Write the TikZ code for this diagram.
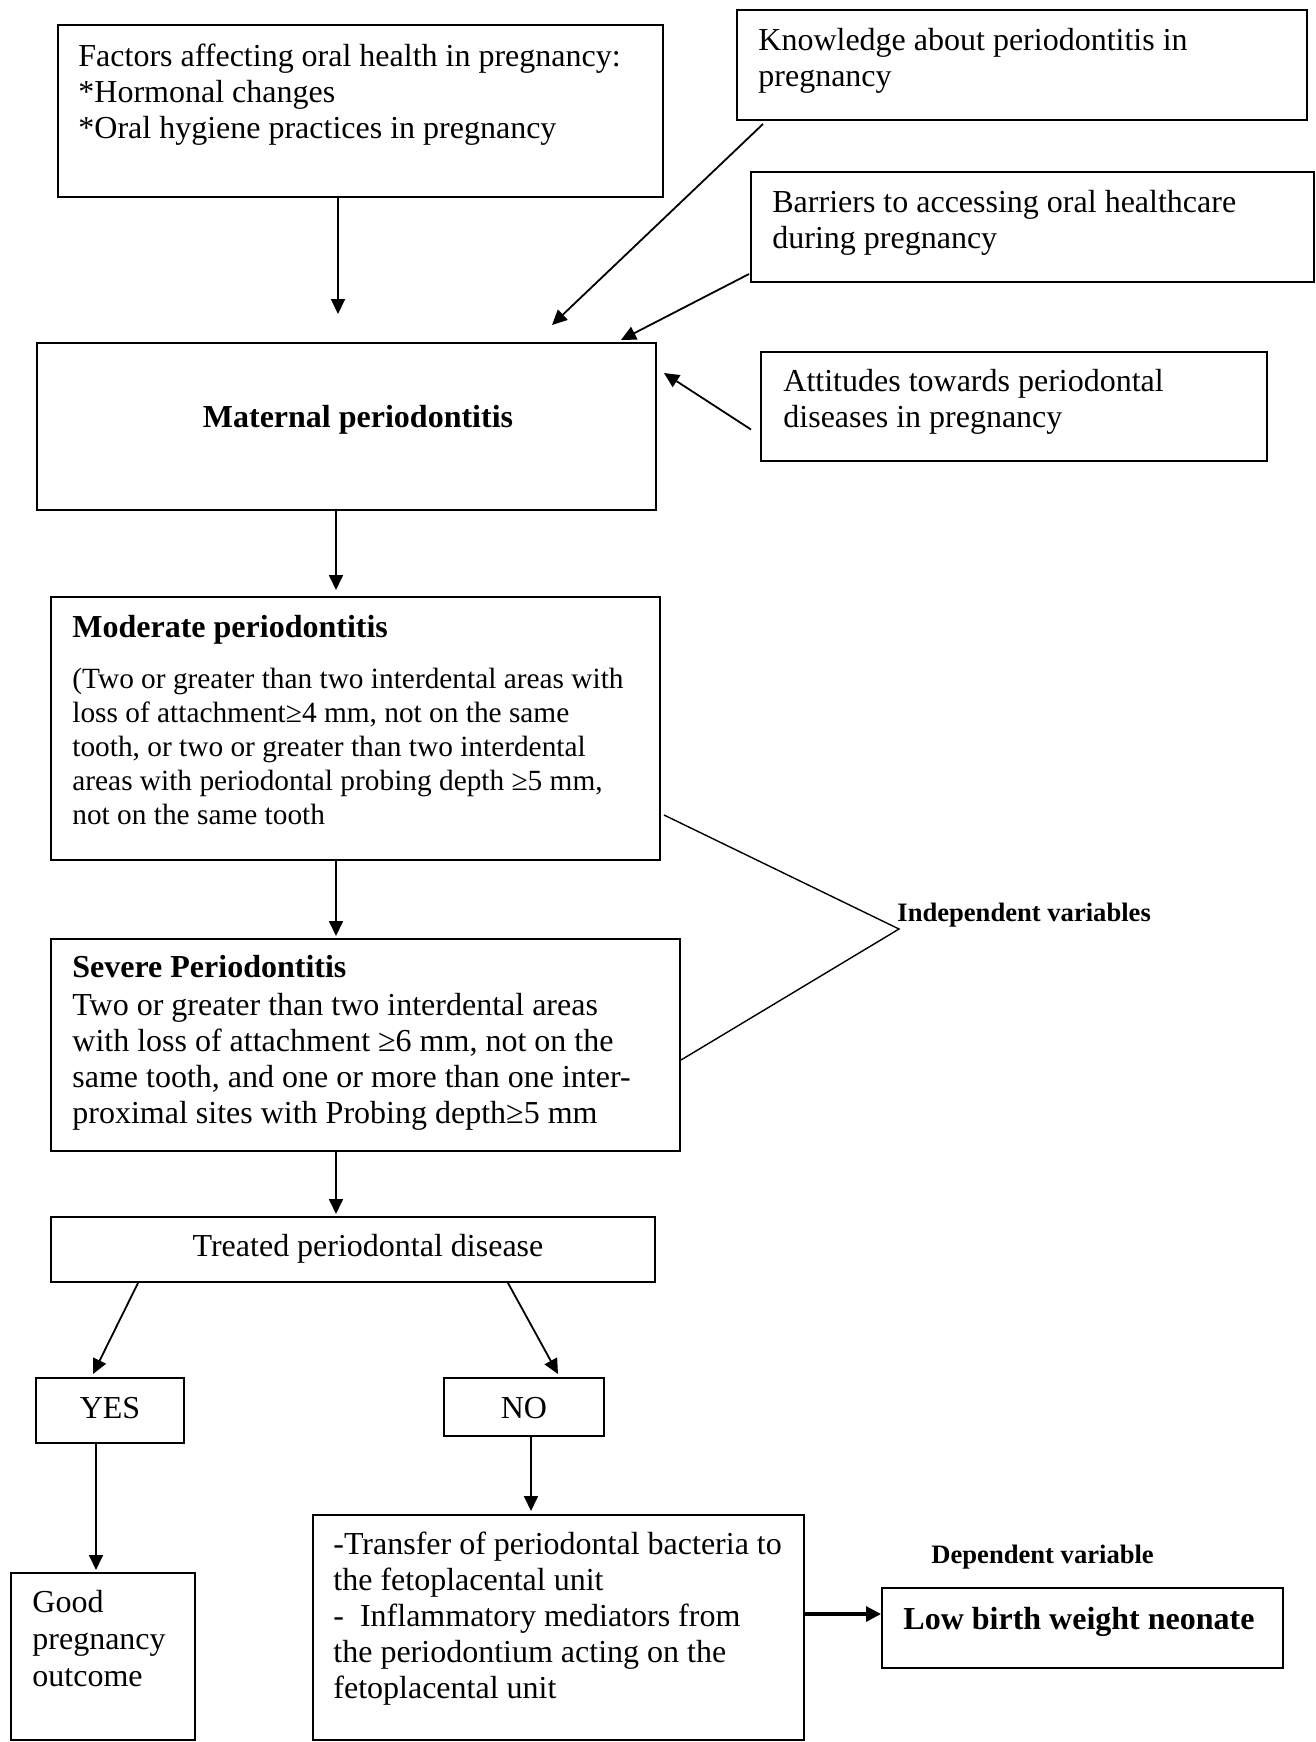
\documentclass[tikz,border=0pt]{standalone}
\usepackage{fontspec}
\setmainfont{Liberation Serif}
\usetikzlibrary{arrows.meta,fit,calc}
\newcommand{\firststrut}{\rule{0pt}{12pt}}
\begin{document}
\begin{tikzpicture}[x=0.5pt,y=-0.5pt,
  box/.style={draw, line width=1pt, inner sep=0pt, rectangle},
  txt/.style={inner sep=0pt, anchor=north west, align=left, font=\fontsize{16}{18}\selectfont},
  txtb/.style={inner sep=0pt, anchor=base west, font=\fontsize{16}{18}\selectfont\bfseries},
  ctr/.style={inner sep=0pt, anchor=base, font=\fontsize{16}{18}\selectfont},
  lbl/.style={inner sep=0pt, anchor=base west, font=\fontsize{13.3}{15}\selectfont\bfseries},
  arr/.style={draw, line width=0.9pt, -{Triangle[length=7.5pt,width=7pt]}},
  thickarr/.style={draw, line width=1.6pt, -{Triangle[length=7.5pt,width=7.5pt]}},
  brk/.style={draw, line width=0.7pt}
]
\useasboundingbox (0,0) rectangle (1316,1742);

% boxes
\node[box, fit={(58,25)(663,197)}] (fac) {};
\node[box, fit={(737,10)(1307,120)}] (know) {};
\node[box, fit={(751,172)(1314,282)}] (barr) {};
\node[box, fit={(761,352)(1267,461)}] (att) {};
\node[box, fit={(37,343)(656,510)}] (mat) {};
\node[box, fit={(51,597)(660,860)}] (mod) {};
\node[box, fit={(51,939)(680,1151)}] (sev) {};
\node[box, fit={(51,1217)(655,1282)}] (treat) {};
\node[box, fit={(36,1378)(184,1443)}] (yes) {};
\node[box, fit={(444,1378)(604,1436)}] (no) {};
\node[box, fit={(11,1573)(195,1740)}] (good) {};
\node[box, fit={(313,1515)(804,1740)}] (trans) {};
\node[box, fit={(882,1588)(1283,1668)}] (lbw) {};

% texts
\node[txt] (facT) at (78,42) {\firststrut Factors affecting oral health in pregnancy:\\*Hormonal changes\\*Oral hygiene practices in pregnancy};
\node[txt] (knowT) at (758,26) {\firststrut Knowledge about periodontitis in\\pregnancy};
\node[txt] (barrT) at (772,188) {\firststrut Barriers to accessing oral healthcare\\during pregnancy};
\node[txt] (attT) at (783,367) {\firststrut Attitudes towards periodontal\\diseases in pregnancy};
\node[ctr, font=\fontsize{16}{18}\selectfont\bfseries] (matT) at (358,427) {Maternal periodontitis};
\node[txtb] (modH) at (72,637) {Moderate periodontitis};
\node[txt, font=\fontsize{14.67}{17}\selectfont] (modT) at (72,664) {\firststrut (Two or greater than two interdental areas with\\loss of attachment≥4 mm, not on the same\\tooth, or two or greater than two interdental\\areas with periodontal probing depth ≥5 mm,\\not on the same tooth};
\node[txtb] (sevH) at (72,977) {Severe Periodontitis};
\node[txt] (sevT) at (72,991) {\firststrut Two or greater than two interdental areas\\with loss of attachment ≥6 mm, not on the\\same tooth, and one or more than one inter-\\proximal sites with Probing depth≥5 mm};
\node[lbl] (ivT) at (897,921) {Independent variables};
\node[ctr] (treatT) at (368,1256) {Treated periodontal disease};
\node[ctr] (yesT) at (110,1418) {YES};
\node[ctr] (noT) at (524,1418) {NO};
\node[txt, font=\fontsize{16}{18.5}\selectfont] (goodT) at (32,1588) {\firststrut Good\\pregnancy\\outcome};
\node[txt] (transT) at (333,1530) {\firststrut -Transfer of periodontal bacteria to\\the fetoplacental unit\\-\ \ Inflammatory mediators from\\the periodontium acting on the\\fetoplacental unit};
\node[lbl] (dvT) at (931,1563) {Dependent variable};
\node[ctr, font=\fontsize{16}{18}\selectfont\bfseries] (lbwT) at (1079,1629) {Low birth weight neonate};

% free ends and columns
\coordinate (a1e) at (338,314);
\coordinate (a2e) at (552,325);
\coordinate (a3e) at (621,340);
\coordinate (a4e) at (664,373);
\coordinate (a5e) at (336,590);
\coordinate (col) at (336,0);
\coordinate (a8e) at (93,1374);
\coordinate (a9e) at (558,1374);
\coordinate (a10e) at (96,1570);
\coordinate (a11e) at (531,1511);
\coordinate (rowL) at (0,1614);
\coordinate (iv) at (899,929);

% connectors
\draw[arr] (fac.south -| a1e) -- (a1e);
\draw[arr] ($(know.south west)+(27,3)$) -- (a2e);
\draw[arr] ($(barr.south west)+(-1,-9)$) -- (a3e);
\draw[arr] ($(att.west)+(-9,23)$) -- (a4e);
\draw[arr] (mat.south -| a5e) -- (a5e);
\draw[arr] (mod.south -| col) -- ($(sev.north -| col)+(0,-2)$);
\draw[arr] (sev.south -| col) -- ($(treat.north -| col)+(0,-2)$);
\draw[arr] ($(treat.south west)+(88,0)$) -- (a8e);
\draw[arr] ($(treat.south west)+(458,0)$) -- (a9e);
\draw[arr] (yes.south -| a10e) -- (a10e);
\draw[arr] (no.south -| a11e) -- (a11e);
\draw[thickarr] (trans.east |- rowL) -- (lbw.west |- rowL);
\draw[brk] ($(mod.north east)+(3,219)$) -- (iv) -- ($(sev.north east)+(0,122)$);
\end{tikzpicture}
\end{document}
